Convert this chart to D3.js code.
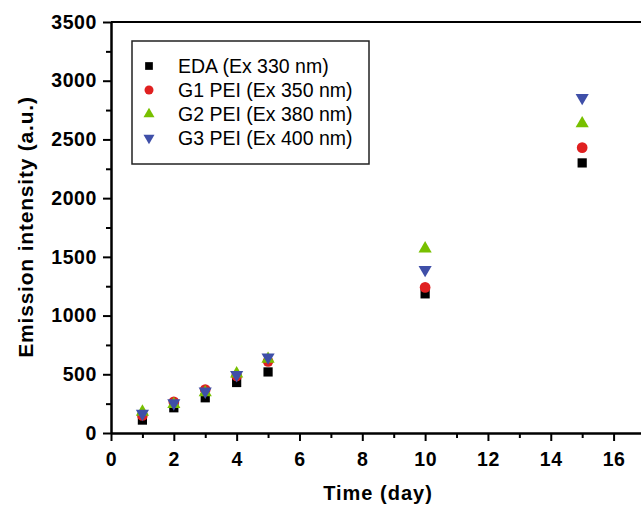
<!DOCTYPE html>
<html>
<head>
<meta charset="utf-8">
<script src="https://cdn.jsdelivr.net/npm/d3@7"></script>
<style>
  body { margin: 0; background: #fff; }
  svg { font-family: Arial, "Liberation Sans", sans-serif; }
</style>
</head>
<body>
<svg id="chart"></svg>
<script>
// data
const days = [1, 2, 3, 4, 5, 10, 15];
const eda = [110, 215, 300, 430, 520, 1185, 2300];
const g1 = [150, 265, 370, 485, 610, 1240, 2430];
const g2 = [180, 245, 345, 505, 630, 1570, 2635];
const g3 = [165, 255, 355, 495, 645, 1390, 2855];
const seriesNames = ["EDA (Ex 330 nm)", "G1 PEI (Ex 350 nm)", "G2 PEI (Ex 380 nm)", "G3 PEI (Ex 400 nm)"];
const xTicks = [0, 2, 4, 6, 8, 10, 12, 14, 16];
const yTicks = [0, 500, 1000, 1500, 2000, 2500, 3000, 3500];

const width = 641;
const height = 505;
const margin = { top: 22, right: -4, bottom: 72, left: 111 };

const svg = d3.select("#chart")
  .attr("width", width)
  .attr("height", height);

const xScale = d3.scaleLinear()
  .domain([0, 17])
  .range([margin.left, width - margin.right]);

const yScale = d3.scaleLinear()
  .domain([0, 3500])
  .range([height - margin.bottom, margin.top]);

// frame top line
svg.append("line")
  .attr("x1", margin.left).attr("x2", width)
  .attr("y1", margin.top).attr("y2", margin.top)
  .attr("stroke", "#000").attr("stroke-width", 2);

// minor ticks
svg.append("g")
  .attr("transform", `translate(0, ${yScale(0)})`)
  .call(d3.axisBottom(xScale).tickValues(d3.range(1, 17, 2)).tickSize(5).tickFormat(""))
  .call(g => g.select(".domain").remove())
  .selectAll("line").attr("stroke-width", 2);

svg.append("g")
  .attr("transform", `translate(${margin.left}, 0)`)
  .call(d3.axisLeft(yScale).tickValues(d3.range(250, 3500, 500)).tickSize(5).tickFormat(""))
  .call(g => g.select(".domain").remove())
  .selectAll("line").attr("stroke-width", 2);

// axes
const xAxis = svg.append("g")
  .attr("transform", `translate(0, ${yScale(0)})`)
  .call(d3.axisBottom(xScale).tickValues(xTicks).tickFormat(d3.format("d"))
    .tickSize(8).tickPadding(11).tickSizeOuter(0));

const yAxis = svg.append("g")
  .attr("transform", `translate(${margin.left}, 0)`)
  .call(d3.axisLeft(yScale).tickValues(yTicks).tickFormat(d3.format("d"))
    .tickSize(8).tickPadding(6).tickSizeOuter(0));

[xAxis, yAxis].forEach(a => {
  a.select(".domain").attr("stroke-width", 2.5);
  a.selectAll(".tick line").attr("stroke-width", 2);
  a.selectAll("text")
    .attr("font-size", 19.5)
    .attr("font-weight", "bold")
    .attr("letter-spacing", 0.6)
    .attr("fill", "#000");
});

// axis titles
svg.append("text")
  .attr("x", 378)
  .attr("y", 500)
  .attr("text-anchor", "middle")
  .attr("font-size", 20)
  .attr("font-weight", "bold")
  .attr("letter-spacing", 1)
  .text("Time (day)");

svg.append("text")
  .attr("transform", `translate(33, 227) rotate(-90)`)
  .attr("text-anchor", "middle")
  .attr("font-size", 21)
  .attr("font-weight", "bold")
  .attr("letter-spacing", 0.8)
  .text("Emission intensity (a.u.)");

// series
const series = [
  { name: seriesNames[0], values: eda, color: "#000000", symbol: d3.symbolSquare, size: 85, rot: 0 },
  { name: seriesNames[1], values: g1, color: "#e02020", symbol: d3.symbolCircle, size: 90, rot: 0 },
  { name: seriesNames[2], values: g2, color: "#78c000", symbol: d3.symbolTriangle, size: 75, rot: 0 },
  { name: seriesNames[3], values: g3, color: "#3f4fa8", symbol: d3.symbolTriangle, size: 75, rot: 180 }
];

series.forEach(s => {
  svg.append("g")
    .selectAll("path")
    .data(days.map((d, i) => ({ x: d, y: s.values[i] })))
    .enter()
    .append("path")
    .attr("d", d3.symbol().type(s.symbol).size(s.size))
    .attr("transform", d => `translate(${xScale(d.x)}, ${yScale(d.y)}) rotate(${s.rot})`)
    .attr("fill", s.color);
});

// legend
const legend = svg.append("g");
legend.append("rect")
  .attr("x", 132).attr("y", 41)
  .attr("width", 237).attr("height", 123)
  .attr("fill", "#fff")
  .attr("stroke", "#222")
  .attr("stroke-width", 1.5);

series.forEach((s, i) => {
  const yy = 66 + i * 24;
  legend.append("path")
    .attr("d", d3.symbol().type(s.symbol).size(s.size * 0.7))
    .attr("transform", `translate(149, ${yy}) rotate(${s.rot})`)
    .attr("fill", s.color);
  legend.append("text")
    .attr("x", 178)
    .attr("y", yy)
    .attr("dy", "0.35em")
    .attr("font-size", 19.5)
    .attr("fill", "#000")
    .text(s.name);
});
</script>
</body>
</html>
